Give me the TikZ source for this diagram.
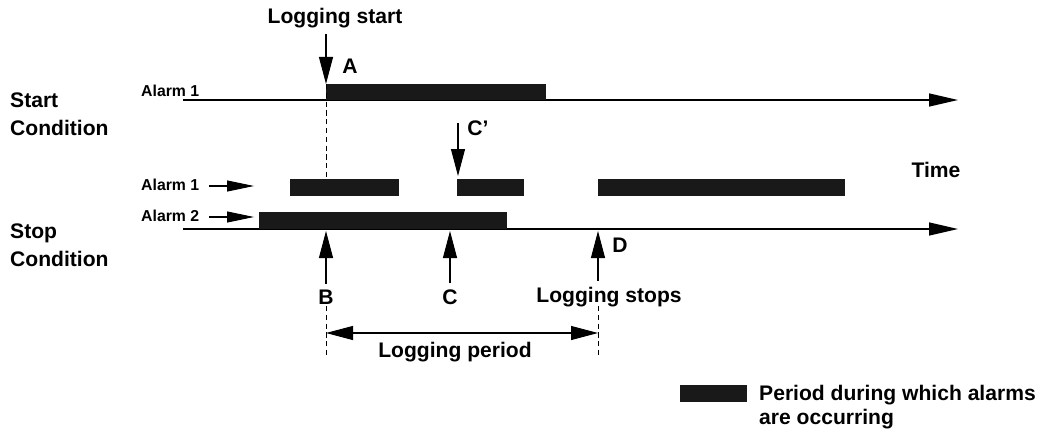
\documentclass[tikz,border=0pt]{standalone}
\usepackage{fontspec}
\setmainfont{Liberation Sans}
\usetikzlibrary{arrows.meta}
\begin{document}
\begin{tikzpicture}
      [x=0.2mm, y=-0.2mm,
      axis/.style={line width=0.8pt, -{Triangle[length=5.8mm, width=2.6mm]}},
      pointer/.style={line width=0.6pt, -{Triangle[length=5.4mm, width=2.8mm]}},
      feed/.style={line width=0.6pt, -{Triangle[length=5.4mm, width=2.2mm]}},
      period/.style={line width=0.6pt, {Triangle[length=5.4mm, width=2.8mm]}-{Triangle[length=5.4mm, width=2.8mm]}},
      guide/.style={line width=0.5pt, dash pattern=on 3pt off 2pt},
      alarmbar/.style={fill=black!90},
      big/.style={font=\fontsize{12}{16}\selectfont\bfseries, align=left},
      label/.style={font=\fontsize{12}{14}\selectfont\bfseries},
      tag/.style={font=\fontsize{9}{10}\selectfont\bfseries, anchor=base west}]
      \useasboundingbox (0,0) rectangle (1050,435);
      \node[big, anchor=west] (startcond) at (4,114) {Start\\Condition};
      \node[big, anchor=west] (stopcond) at (4,245) {Stop\\Condition};
      \node[tag] (startalarm) at (135,96) {Alarm 1};
      \node[tag] (stopalarm1) at (135,190) {Alarm 1};
      \node[tag] (stopalarm2) at (135,221) {Alarm 2};
      \coordinate (startaxis0) at (183,100);
      \coordinate (startaxis1) at (958,100);
      \coordinate (stopaxis0) at (183,229);
      \coordinate (stopaxis1) at (958,229);
      \draw[axis] (startaxis0) -- (startaxis1);
      \draw[axis] (stopaxis0) -- (stopaxis1);
      \draw[feed] (stopalarm1.east |- 0,186) ++(4,0) -- (254,186);
      \draw[feed] (stopalarm2.east |- 0,217) ++(4,0) -- (254,217);
      \fill[alarmbar] (326,84) rectangle (546,100);
      \fill[alarmbar] (290,179) rectangle (399,196);
      \fill[alarmbar] (457,179) rectangle (524,196);
      \fill[alarmbar] (598,179) rectangle (845,196);
      \fill[alarmbar] (259,212) rectangle (507,229);
      \node[label] (logstart) at (335,18) {Logging start};
      \coordinate (A) at (326,84);
      \node[label] (Alabel) at (350,66) {A};
      \draw[pointer] (logstart.south -| A) -- (A);
      \draw[guide] (A) -- (326,179);
      \coordinate (Cp) at (458,176);
      \node[label] (Cplabel) at (478,128) {C’};
      \draw[pointer] (458,123) -- (Cp);
      \node[label] (time) at (936,170) {Time};
      \coordinate (B) at (326,231);
      \coordinate (C) at (450,231);
      \coordinate (D) at (598,231);
      \node[label] (Blabel) at (326,297) {B};
      \node[label] (Clabel) at (450,297) {C};
      \node[label] (Dlabel) at (620,245) {D};
      \node[label] (logstop) at (609,297) {Logging stops};
      \draw[pointer] (Blabel.north) -- (B);
      \draw[pointer] (Clabel.north) -- (C);
      \draw[pointer] (logstop.north -| D) -- (D);
      \coordinate (period0) at (326,333);
      \coordinate (period1) at (598,333);
      \draw[guide] (326,306) -- (326,356);
      \draw[guide] (598,306) -- (598,356);
      \draw[period] (period0) -- (period1);
      \node[label] (periodlabel) at (455,352) {Logging period};
      \fill[alarmbar] (680,385) rectangle (747,402);
      \node[label, anchor=west, align=left] (legend) at (753,407) {Period during which alarms\\are occurring};
    \end{tikzpicture}
\end{document}
